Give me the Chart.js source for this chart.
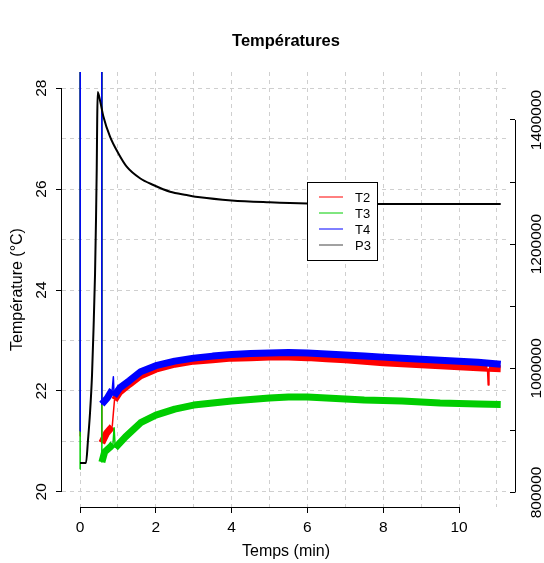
<!DOCTYPE html>
<html lang="fr">
<head>
<meta charset="utf-8">
<title>Températures</title>
<script src="https://cdn.jsdelivr.net/npm/chart.js@4.4.1/dist/chart.umd.min.js"></script>
<style>
  html, body { margin: 0; padding: 0; background: #fff; }
</style>
</head>
<body>
<canvas id="tempChart" width="544" height="563"></canvas>
<script>
// time in minutes, temperatures in °C, P3 on the right axis
// (45 = reading off the top of the chart during the start-up spikes)
const timeT2 = [0, 0.006, 0.57, 0.575, 0.7, 0.8, 0.85, 0.88, 0.91, 1.05, 1.3, 1.6, 2, 2.5, 3, 3.5, 4, 4.5, 5, 5.5, 6, 6.5, 7, 7.5, 8, 8.5, 9, 9.5, 10, 10.5, 10.75, 10.77, 10.79, 11.1];
const tempT2 = [21.1, 45, 45, 20.97, 21.16, 21.25, 21.29, 21.56, 21.82, 21.98, 22.13, 22.30, 22.43, 22.53, 22.59, 22.62, 22.65, 22.66, 22.67, 22.67, 22.66, 22.64, 22.62, 22.59, 22.56, 22.54, 22.52, 22.50, 22.48, 22.46, 22.45, 22.12, 22.45, 22.44];

const timeT3 = [0, 0.004, 0.572, 0.577, 0.65, 0.8, 0.87, 0.9, 0.93, 1.2, 1.6, 2, 2.5, 3, 3.5, 4, 4.5, 5, 5.5, 6, 6.5, 7, 7.5, 8, 8.5, 9, 9.5, 10, 10.5, 11.1];
const tempT3 = [20.45, 45, 45, 20.59, 20.79, 20.89, 20.95, 21.27, 20.87, 21.09, 21.37, 21.52, 21.64, 21.72, 21.76, 21.80, 21.83, 21.86, 21.88, 21.88, 21.86, 21.84, 21.82, 21.81, 21.80, 21.78, 21.76, 21.75, 21.74, 21.73];

const timeT4 = [0, 0.005, 0.571, 0.576, 0.72, 0.85, 0.88, 0.9, 1.05, 1.3, 1.6, 2, 2.5, 3, 3.5, 4, 4.5, 5, 5.5, 6, 6.5, 7, 7.5, 8, 8.5, 9, 9.5, 10, 10.5, 11.1];
const tempT4 = [21.2, 45, 45, 21.74, 21.86, 22.02, 22.28, 21.90, 22.06, 22.20, 22.38, 22.50, 22.59, 22.65, 22.69, 22.72, 22.74, 22.75, 22.76, 22.75, 22.73, 22.71, 22.69, 22.67, 22.65, 22.63, 22.61, 22.59, 22.57, 22.53];

const timeP3 = [0, 0.158, 0.211, 0.264, 0.317, 0.356, 0.396, 0.422, 0.441, 0.454, 0.467, 0.54, 0.615, 0.792, 1.01, 1.232, 1.583, 1.934, 2.375, 2.815, 3.166, 4, 5, 6, 7, 8, 9, 10, 11.1];
const valueP3 = [847500, 847500, 884500, 928000, 989000, 1061700, 1150300, 1238900, 1319500, 1400000, 1445100, 1428000, 1406000, 1373100, 1346400, 1324800, 1306100, 1295300, 1284500, 1279200, 1275500, 1270500, 1267500, 1265500, 1264800, 1264700, 1264700, 1264700, 1264700];

const timeTicks = [0, 1, 2, 3, 4, 5, 6, 7, 8, 9, 10, 11];
const tempTicks = [20, 21, 22, 23, 24, 25, 26, 27, 28];
const p3Ticks = [800000, 900000, 1000000, 1100000, 1200000, 1300000, 1400000];

const FONT = "'Liberation Sans', Arial, Helvetica, sans-serif";

function toPoints(times, values) {
    return times.map((t, i) => ({ x: t, y: values[i] }));
}

// noisy sensor bands are drawn as a wide line, steep jumps/spikes as thin ones
const bandSegment = {
    borderWidth: ctx => {
        const a = ctx.p0.parsed, b = ctx.p1.parsed;
        const slope = Math.abs((b.y - a.y) / (b.x - a.x));
        return slope > 5 ? 1.5 : 7;
    }
};

const rAxes = {
    id: 'rAxes',
    afterDraw(chart) {
        const { ctx, chartArea, scales } = chart;
        ctx.save();
        ctx.strokeStyle = '#000';
        ctx.lineWidth = 1;
        ctx.beginPath();
        const yb = Math.round(chartArea.bottom) + 0.5;
        ctx.moveTo(scales.x.getPixelForValue(0), yb);
        ctx.lineTo(scales.x.getPixelForValue(10), yb);
        const xl = Math.round(chartArea.left) - 0.5;
        ctx.moveTo(xl, scales.y.getPixelForValue(tempTicks[0]));
        ctx.lineTo(xl, scales.y.getPixelForValue(tempTicks[tempTicks.length - 1]));
        const xr = Math.round(chartArea.right) + 5.5;
        ctx.moveTo(xr, scales.y2.getPixelForValue(p3Ticks[0]));
        ctx.lineTo(xr, scales.y2.getPixelForValue(p3Ticks[p3Ticks.length - 1]));
        ctx.stroke();
        ctx.restore();
    }
};

const boxLegend = {
    id: 'boxLegend',
    afterDatasetsDraw(chart) {
        const { ctx } = chart;
        const items = ['T2', 'T3', 'T4', 'P3'].map(name =>
            chart.data.datasets.find(d => d.label === name));
        ctx.save();
        ctx.fillStyle = '#fff';
        ctx.fillRect(307.5, 182.5, 70, 78);
        ctx.strokeStyle = '#000';
        ctx.lineWidth = 1;
        ctx.strokeRect(307.5, 182.5, 70, 78);
        ctx.font = '13px ' + FONT;
        ctx.textBaseline = 'middle';
        items.forEach((ds, i) => {
            const y = 197 + i * 16;
            ctx.strokeStyle = ds.label === 'P3' ? '#444' : ds.borderColor;
            ctx.beginPath();
            ctx.moveTo(319, y);
            ctx.lineTo(343, y);
            ctx.stroke();
            ctx.fillStyle = '#000';
            ctx.fillText(ds.label, 355, y + 1);
        });
        ctx.restore();
    }
};

const chartCtx = document.getElementById('tempChart').getContext('2d');
const tempChart = new Chart(chartCtx, {
    type: 'line',
    data: {
        datasets: [{
            label: 'T2',
            data: toPoints(timeT2, tempT2),
            borderColor: 'rgb(255, 0, 0)',
            yAxisID: 'y',
            order: 4,
            segment: bandSegment
        }, {
            label: 'T3',
            data: toPoints(timeT3, tempT3),
            borderColor: 'rgb(0, 205, 0)',
            yAxisID: 'y',
            order: 3,
            segment: bandSegment
        }, {
            label: 'T4',
            data: toPoints(timeT4, tempT4),
            borderColor: 'rgb(0, 0, 255)',
            yAxisID: 'y',
            order: 2,
            segment: bandSegment
        }, {
            label: 'P3',
            data: toPoints(timeP3, valueP3),
            borderColor: '#000',
            borderWidth: 2,
            cubicInterpolationMode: 'monotone',
            yAxisID: 'y2',
            order: 1
        }]
    },
    options: {
        responsive: false,
        devicePixelRatio: 1,
        animation: false,
        layout: { padding: 0 },
        datasets: {
            line: {
                pointRadius: 0,
                borderJoinStyle: 'round',
                clip: 0,
                tension: 0
            }
        },
        plugins: {
            legend: { display: false },
            tooltip: { enabled: false },
            title: {
                display: true,
                text: 'Températures',
                fullSize: false,
                color: '#000',
                font: { family: FONT, size: 16.5, weight: 'bold' },
                padding: { top: 32, bottom: 20.2 }
            }
        },
        scales: {
            x: {
                type: 'linear',
                min: -0.475,
                max: 11.345,
                afterBuildTicks: axis => { axis.ticks = timeTicks.map(v => ({ value: v })); },
                afterFit: axis => { axis.height = 56; },
                border: { display: false, dash: [4, 4] },
                grid: {
                    color: '#cfcfcf',
                    tickLength: 6,
                    tickBorderDash: [],
                    tickColor: ctx => (ctx.tick.value % 2 === 0 && ctx.tick.value <= 10) ? '#000' : 'rgba(0,0,0,0)'
                },
                ticks: {
                    autoSkip: false,
                    maxRotation: 0,
                    padding: 5.7,
                    color: '#000',
                    font: { family: FONT, size: 15.5 },
                    callback: v => (v % 2 === 0 && v <= 10) ? String(v) : ''
                },
                title: {
                    display: true,
                    text: 'Temps (min)',
                    color: '#000',
                    font: { family: FONT, size: 16 },
                    padding: { top: 0, bottom: 1.5 }
                }
            },
            y: {
                type: 'linear',
                position: 'left',
                min: 19.7,
                max: 28.32,
                afterBuildTicks: axis => { axis.ticks = tempTicks.map(v => ({ value: v })); },
                afterFit: axis => { axis.width = 62; },
                border: { display: false, dash: [4, 4] },
                grid: {
                    color: '#cfcfcf',
                    tickLength: 6,
                    tickBorderDash: [],
                    tickColor: ctx => ctx.tick.value % 2 === 0 ? '#000' : 'rgba(0,0,0,0)'
                },
                ticks: {
                    autoSkip: false,
                    minRotation: 90,
                    maxRotation: 90,
                    crossAlign: 'center',
                    padding: 5.7,
                    color: '#000',
                    font: { family: FONT, size: 15.5 },
                    callback: v => v % 2 === 0 ? String(v) : ''
                },
                title: {
                    display: true,
                    text: 'Température (°C)',
                    color: '#000',
                    font: { family: FONT, size: 16 },
                    padding: { top: 8, bottom: 0 }
                }
            },
            y2: {
                type: 'linear',
                position: 'right',
                min: 776600,
                max: 1477300,
                afterBuildTicks: axis => { axis.ticks = p3Ticks.map(v => ({ value: v })); },
                afterFit: axis => { axis.width = 34; },
                border: { display: false },
                grid: {
                    drawOnChartArea: false,
                    tickLength: 5,
                    tickBorderDash: [],
                    tickColor: '#000'
                },
                ticks: {
                    autoSkip: false,
                    minRotation: 90,
                    maxRotation: 90,
                    crossAlign: 'center',
                    padding: -8.5,
                    color: '#000',
                    font: { family: FONT, size: 15.5 },
                    callback: v => v % 200000 === 0 ? String(v) : ''
                }
            }
        }
    },
    plugins: [rAxes, boxLegend]
});
</script>
</body>
</html>
